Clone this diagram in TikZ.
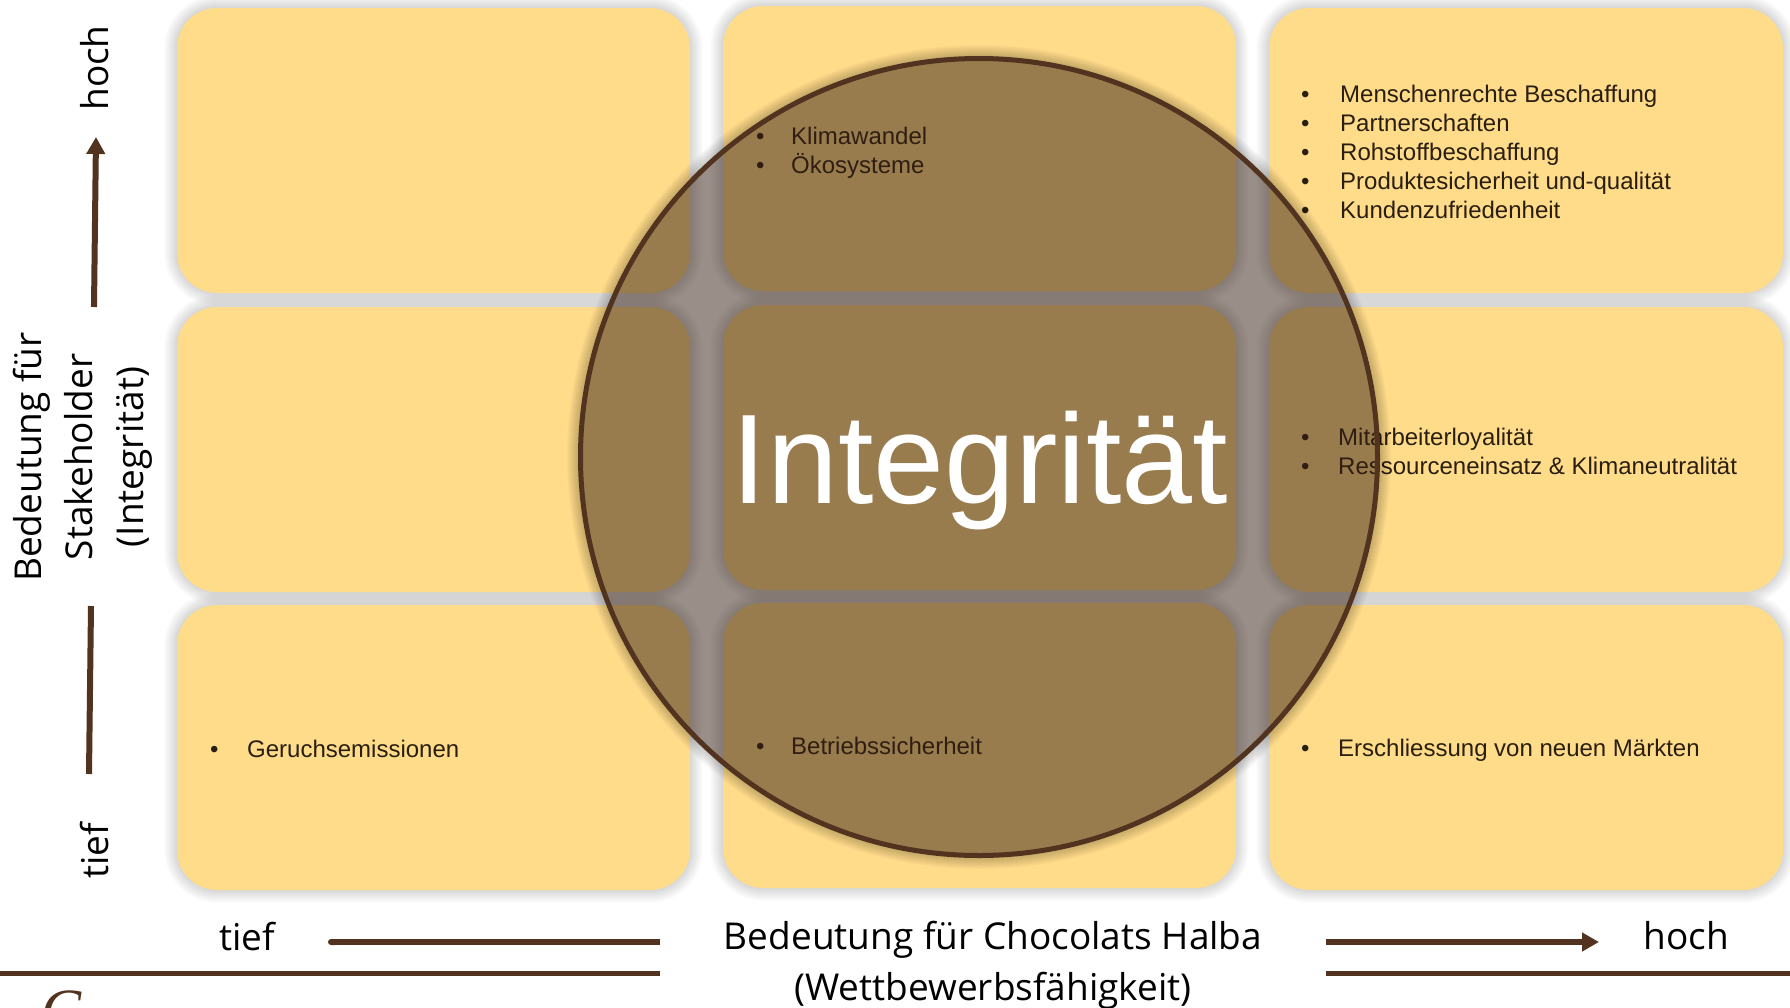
\documentclass[tikz,border=0pt]{standalone}
\usepackage{fontspec}
\setmainfont{Liberation Sans}
\newfontfamily\labelfont{Open Sans}
\newfontfamily\logofont{Liberation Serif}
\usetikzlibrary{arrows.meta}
\definecolor{boxyellow}{HTML}{FFDC8A}
\definecolor{darkbrown}{HTML}{52331F}
\definecolor{circfill}{HTML}{351E12}
\definecolor{bodytext}{HTML}{2A1E10}
\newcommand{\softshadow}[4]{%
  \foreach \g in {1,...,13}{%
    \fill[black,opacity=0.013,rounded corners={40pt+\g*1pt}] (#1-\g,#2-\g) rectangle (#3+\g,#4+\g);}}
\newcommand{\softbox}[5]{%
  \node[matbox,minimum width=#4pt-#2pt,minimum height=#5pt-#3pt] (#1) at ({(#2+#4)/2},{(#3+#5)/2}) {};}
\tikzset{
  x=1pt,y=-1pt,
  matbox/.style={fill=boxyellow,draw=none,rounded corners=40pt,inner sep=0pt,outer sep=0pt},
  bul/.style={anchor=base west,font=\fontsize{24}{29}\selectfont,text=bodytext,align=left,inner sep=0pt},
  axis/.style={font=\labelfont\fontsize{37}{51}\selectfont,text=black,align=center,inner sep=0pt},
  rule/.style={draw=darkbrown,line width=4.5pt},
  axisline/.style={draw=darkbrown,line width=6pt},
  axistip/.style={-{Triangle[length=17pt,width=18pt]}},
}
\begin{document}
\begin{tikzpicture}
\useasboundingbox (0,0) rectangle (1790,1007);
\clip (0,0) rectangle (1790,1007);
% box shadows
\softshadow{177}{8}{690}{293}
\softshadow{177}{307}{690}{592}
\softshadow{177}{605}{690}{890}
\softshadow{723}{6}{1236}{291}
\softshadow{723}{305}{1236}{590}
\softshadow{723}{603}{1236}{888}
\softshadow{1269}{8}{1783}{293}
\softshadow{1269}{307}{1783}{592}
\softshadow{1269}{605}{1783}{890}
% boxes
\softbox{a1}{177}{8}{690}{293}
\softbox{a2}{177}{307}{690}{592}
\softbox{a3}{177}{605}{690}{890}
\softbox{b1}{723}{6}{1236}{291}
\softbox{b2}{723}{305}{1236}{590}
\softbox{b3}{723}{603}{1236}{888}
\softbox{c1}{1269}{8}{1783}{293}
\softbox{c2}{1269}{307}{1783}{592}
\softbox{c3}{1269}{605}{1783}{890}
% bullet lists
\foreach \ty/\tx in {102/Menschenrechte Beschaffung,131/Partnerschaften,160/Rohstoffbeschaffung,189/Produktesicherheit und-qualität,218/Kundenzufriedenheit}{
  \node[bul] (n\ty) at (1340,\ty) {\tx};
  \node[bul] (d\ty) at (1301,\ty) {•};}
\foreach \ty/\tx in {144/Klimawandel,173/Ökosysteme}{
  \node[bul] (n\ty) at (791,\ty) {\tx};
  \node[bul] (d\ty) at (756,\ty) {•};}
\foreach \ty/\tx in {445/Mitarbeiterloyalität,474/Ressourceneinsatz \& Klimaneutralität}{
  \node[bul] (n\ty) at (1338,\ty) {\tx};
  \node[bul] (d\ty) at (1301,\ty) {•};}
\node[bul] (geruch) at (247,757.5) {Geruchsemissionen};
\node[bul] (dgeruch) at (210,757.5) {•};
\node[bul] (betrieb) at (791,754.5) {Betriebssicherheit};
\node[bul] (dbetrieb) at (756,754.5) {•};
\node[bul] (markt) at (1338,756.5) {Erschliessung von neuen Märkten};
\node[bul] (dmarkt) at (1301,756.5) {•};
% circle with soft edge
\foreach \g in {1,...,14}{\fill[black,opacity=0.018,even odd rule] (979,457) circle ({398+\g}) (979,457) circle (398);}
\node[circle,fill=circfill,fill opacity=0.5,draw=darkbrown,draw opacity=1,line width=5pt,minimum size=797pt,inner sep=0pt,outer sep=0pt] (ring) at (979,457) {};
\node[font=\fontsize{127.5}{127.5}\selectfont,text=white,inner sep=0pt] (integ) at (980,471) {Integrität};
% axes
\node[axis,rotate=90] (hoch) at (95,68) {hoch};
\node[axis,rotate=90] (tiefv) at (95,851) {tief};
\node[axis,rotate=90] (ylab) at (83,457) {Bedeutung für\\Stakeholder\\(Integrität)};
\node[axis] (tiefh) at (247,937) {tief};
\node[axis] (hochh) at (1686,936) {hoch};
\node[axis] (xlab) at (993,965.5) {Bedeutung für Chocolats Halba\\(Wettbewerbsfähigkeit)};
\coordinate (u0) at (94,307); \coordinate (u1) at (96,137);
\coordinate (l0) at (91,606); \coordinate (l1) at (89,774);
\coordinate (h0) at (328,942); \coordinate (h1) at (660,942);
\coordinate (k0) at (1326,942); \coordinate (k1) at (1599,942);
\coordinate (r0) at (0,973.5); \coordinate (r1) at (660,973.5);
\coordinate (s0) at (1326,973.5); \coordinate (s1) at (1790,973.5);
\draw[axisline,axistip] (u0) -- (u1);
\draw[axisline] (l0) -- (l1);
\draw[axisline,{Round Cap[]}-] (h0) -- (h1);
\draw[axisline,axistip] (k0) -- (k1);
\draw[rule] (r0) -- (r1);
\draw[rule] (s0) -- (s1);
\node[font=\logofont\itshape\fontsize{60}{60}\selectfont,text=darkbrown,anchor=base,inner sep=0pt] (logo) at (62,1030) {C};
\end{tikzpicture}
\end{document}
